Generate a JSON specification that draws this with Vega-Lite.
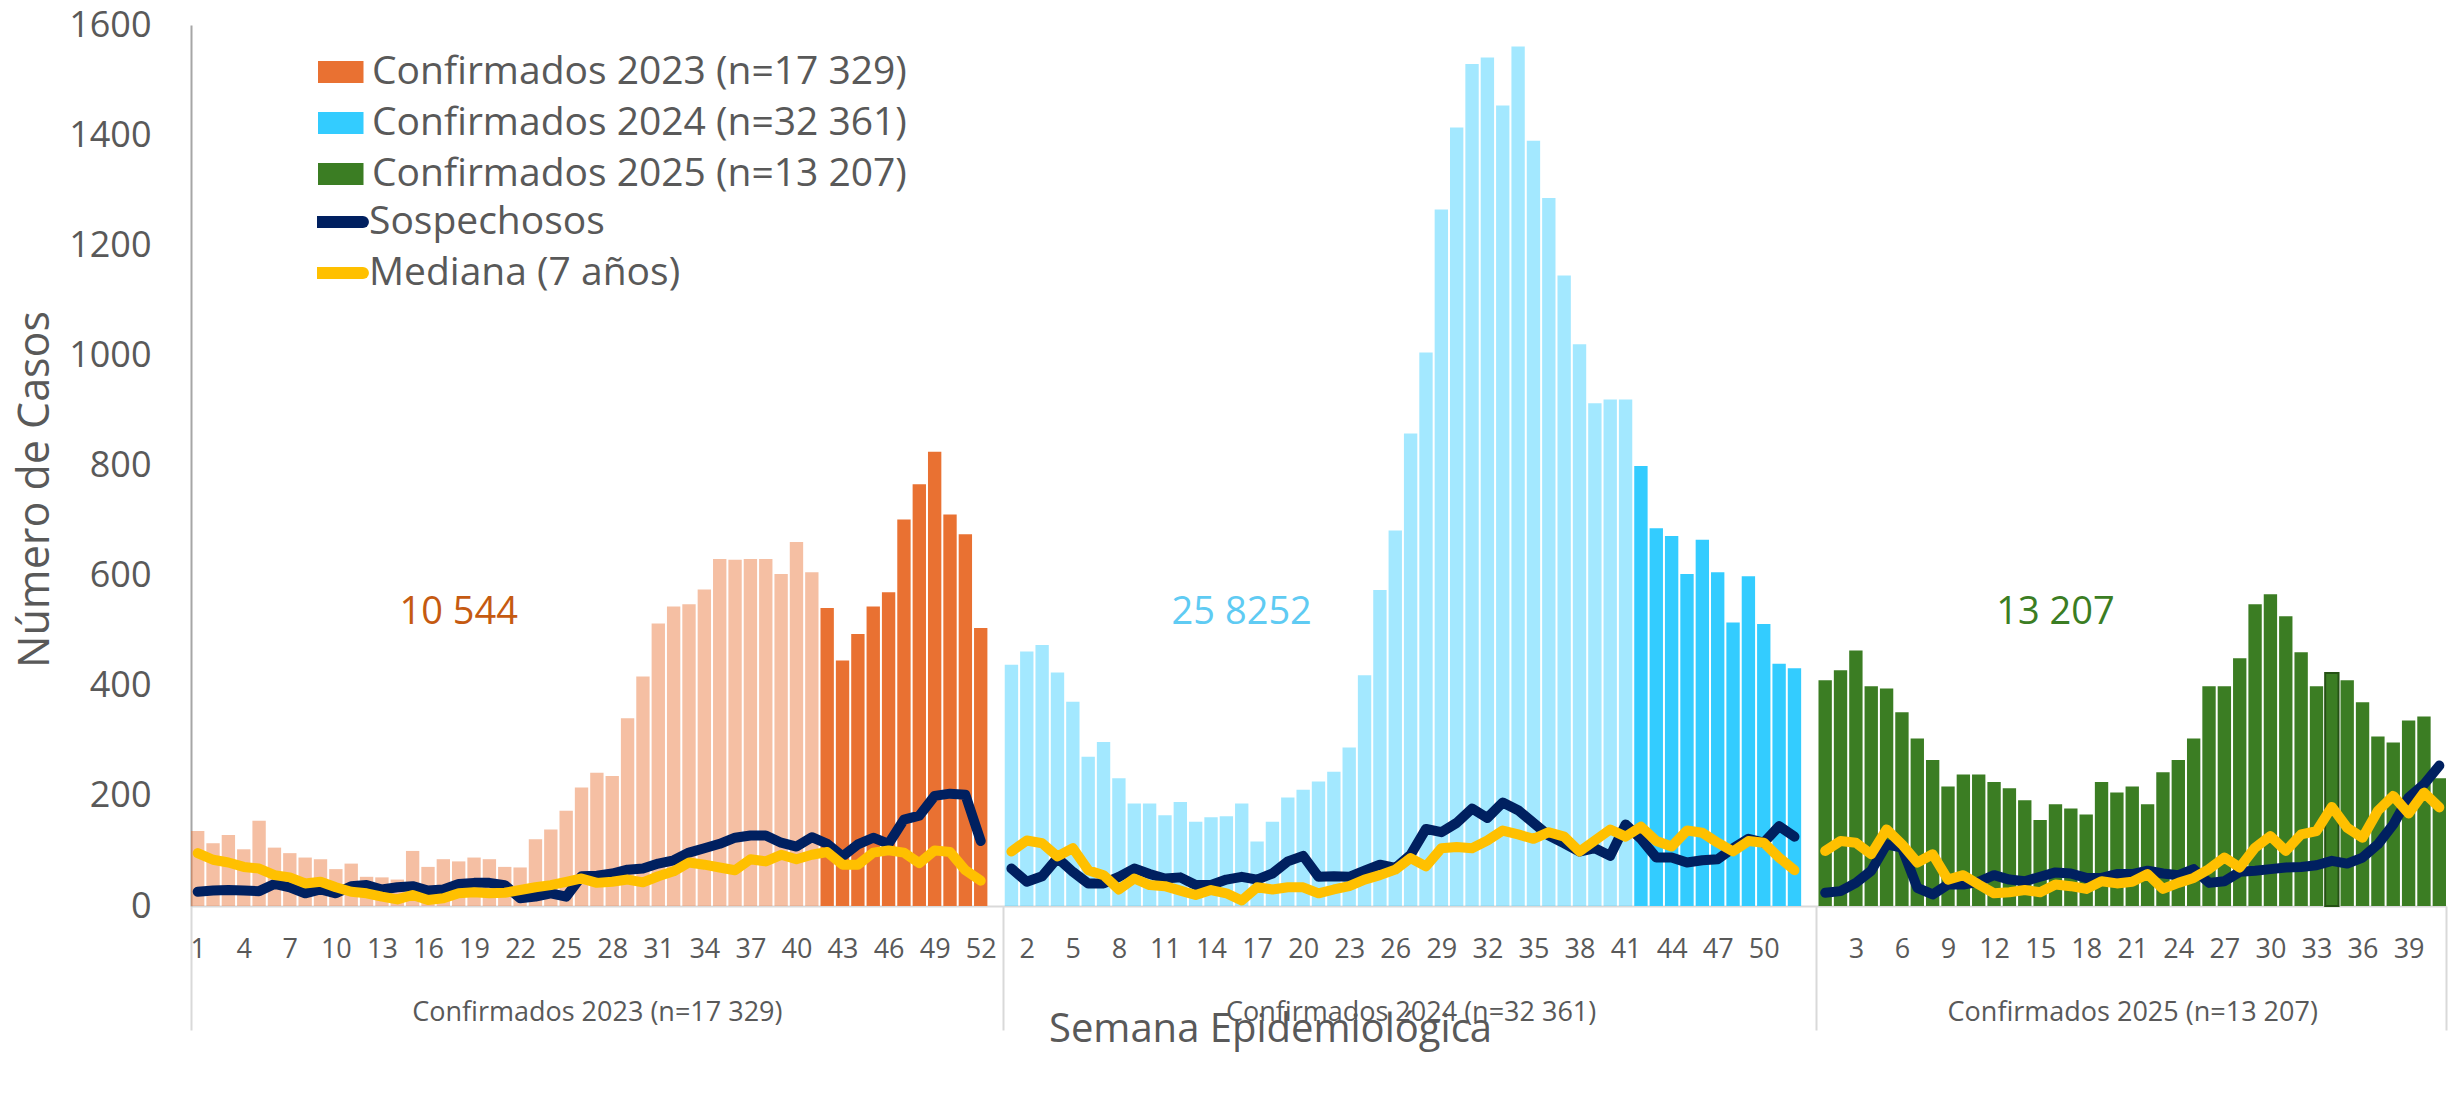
{
  "$schema": "https://vega.github.io/schema/vega-lite/v6.json",
  "autosize": {"type": "none"},
  "padding": {"left": 191, "top": 25, "right": 12, "bottom": 188},
  "width": 2255,
  "height": 881,
  "background": "white",
  "config": {"font": "Open Sans", "view": {"stroke": null}, "axis": {"grid": false}},
  "data": {"values": [
    {"key":"2023-01","anio":"2023","semana":1,"periodo":"anterior","confirmados":136,"sospechosos":26,"mediana":96},
    {"key":"2023-02","anio":"2023","semana":2,"periodo":"anterior","confirmados":114,"sospechosos":28,"mediana":84},
    {"key":"2023-03","anio":"2023","semana":3,"periodo":"anterior","confirmados":129,"sospechosos":29,"mediana":79},
    {"key":"2023-04","anio":"2023","semana":4,"periodo":"anterior","confirmados":103,"sospechosos":28,"mediana":71},
    {"key":"2023-05","anio":"2023","semana":5,"periodo":"anterior","confirmados":155,"sospechosos":27,"mediana":68},
    {"key":"2023-06","anio":"2023","semana":6,"periodo":"anterior","confirmados":106,"sospechosos":40,"mediana":56},
    {"key":"2023-07","anio":"2023","semana":7,"periodo":"anterior","confirmados":96,"sospechosos":34,"mediana":52},
    {"key":"2023-08","anio":"2023","semana":8,"periodo":"anterior","confirmados":88,"sospechosos":23,"mediana":41},
    {"key":"2023-09","anio":"2023","semana":9,"periodo":"anterior","confirmados":85,"sospechosos":30,"mediana":44},
    {"key":"2023-10","anio":"2023","semana":10,"periodo":"anterior","confirmados":67,"sospechosos":23,"mediana":34},
    {"key":"2023-11","anio":"2023","semana":11,"periodo":"anterior","confirmados":77,"sospechosos":36,"mediana":26},
    {"key":"2023-12","anio":"2023","semana":12,"periodo":"anterior","confirmados":53,"sospechosos":38,"mediana":23},
    {"key":"2023-13","anio":"2023","semana":13,"periodo":"anterior","confirmados":52,"sospechosos":30,"mediana":17},
    {"key":"2023-14","anio":"2023","semana":14,"periodo":"anterior","confirmados":48,"sospechosos":34,"mediana":12},
    {"key":"2023-15","anio":"2023","semana":15,"periodo":"anterior","confirmados":100,"sospechosos":36,"mediana":20},
    {"key":"2023-16","anio":"2023","semana":16,"periodo":"anterior","confirmados":71,"sospechosos":28,"mediana":11},
    {"key":"2023-17","anio":"2023","semana":17,"periodo":"anterior","confirmados":85,"sospechosos":30,"mediana":14},
    {"key":"2023-18","anio":"2023","semana":18,"periodo":"anterior","confirmados":81,"sospechosos":40,"mediana":23},
    {"key":"2023-19","anio":"2023","semana":19,"periodo":"anterior","confirmados":88,"sospechosos":42,"mediana":25},
    {"key":"2023-20","anio":"2023","semana":20,"periodo":"anterior","confirmados":85,"sospechosos":42,"mediana":23},
    {"key":"2023-21","anio":"2023","semana":21,"periodo":"anterior","confirmados":71,"sospechosos":38,"mediana":24},
    {"key":"2023-22","anio":"2023","semana":22,"periodo":"anterior","confirmados":70,"sospechosos":14,"mediana":29},
    {"key":"2023-23","anio":"2023","semana":23,"periodo":"anterior","confirmados":121,"sospechosos":17,"mediana":34},
    {"key":"2023-24","anio":"2023","semana":24,"periodo":"anterior","confirmados":139,"sospechosos":23,"mediana":38},
    {"key":"2023-25","anio":"2023","semana":25,"periodo":"anterior","confirmados":173,"sospechosos":17,"mediana":44},
    {"key":"2023-26","anio":"2023","semana":26,"periodo":"anterior","confirmados":215,"sospechosos":54,"mediana":50},
    {"key":"2023-27","anio":"2023","semana":27,"periodo":"anterior","confirmados":242,"sospechosos":55,"mediana":42},
    {"key":"2023-28","anio":"2023","semana":28,"periodo":"anterior","confirmados":236,"sospechosos":59,"mediana":44},
    {"key":"2023-29","anio":"2023","semana":29,"periodo":"anterior","confirmados":341,"sospechosos":66,"mediana":48},
    {"key":"2023-30","anio":"2023","semana":30,"periodo":"anterior","confirmados":417,"sospechosos":68,"mediana":43},
    {"key":"2023-31","anio":"2023","semana":31,"periodo":"anterior","confirmados":513,"sospechosos":77,"mediana":54},
    {"key":"2023-32","anio":"2023","semana":32,"periodo":"anterior","confirmados":544,"sospechosos":83,"mediana":63},
    {"key":"2023-33","anio":"2023","semana":33,"periodo":"anterior","confirmados":548,"sospechosos":97,"mediana":79},
    {"key":"2023-34","anio":"2023","semana":34,"periodo":"anterior","confirmados":575,"sospechosos":105,"mediana":75},
    {"key":"2023-35","anio":"2023","semana":35,"periodo":"anterior","confirmados":630,"sospechosos":113,"mediana":70},
    {"key":"2023-36","anio":"2023","semana":36,"periodo":"anterior","confirmados":629,"sospechosos":124,"mediana":65},
    {"key":"2023-37","anio":"2023","semana":37,"periodo":"anterior","confirmados":630,"sospechosos":128,"mediana":85},
    {"key":"2023-38","anio":"2023","semana":38,"periodo":"anterior","confirmados":630,"sospechosos":128,"mediana":81},
    {"key":"2023-39","anio":"2023","semana":39,"periodo":"anterior","confirmados":603,"sospechosos":115,"mediana":93},
    {"key":"2023-40","anio":"2023","semana":40,"periodo":"anterior","confirmados":661,"sospechosos":108,"mediana":85},
    {"key":"2023-41","anio":"2023","semana":41,"periodo":"anterior","confirmados":606,"sospechosos":125,"mediana":93},
    {"key":"2023-42","anio":"2023","semana":42,"periodo":"reciente","confirmados":541,"sospechosos":113,"mediana":98},
    {"key":"2023-43","anio":"2023","semana":43,"periodo":"reciente","confirmados":446,"sospechosos":90,"mediana":75},
    {"key":"2023-44","anio":"2023","semana":44,"periodo":"reciente","confirmados":494,"sospechosos":112,"mediana":75},
    {"key":"2023-45","anio":"2023","semana":45,"periodo":"reciente","confirmados":544,"sospechosos":124,"mediana":97},
    {"key":"2023-46","anio":"2023","semana":46,"periodo":"reciente","confirmados":570,"sospechosos":113,"mediana":101},
    {"key":"2023-47","anio":"2023","semana":47,"periodo":"reciente","confirmados":702,"sospechosos":157,"mediana":97},
    {"key":"2023-48","anio":"2023","semana":48,"periodo":"reciente","confirmados":766,"sospechosos":164,"mediana":78},
    {"key":"2023-49","anio":"2023","semana":49,"periodo":"reciente","confirmados":825,"sospechosos":200,"mediana":101},
    {"key":"2023-50","anio":"2023","semana":50,"periodo":"reciente","confirmados":711,"sospechosos":204,"mediana":98},
    {"key":"2023-51","anio":"2023","semana":51,"periodo":"reciente","confirmados":675,"sospechosos":202,"mediana":65},
    {"key":"2023-52","anio":"2023","semana":52,"periodo":"reciente","confirmados":505,"sospechosos":118,"mediana":46},
    {"key":"2024-01","anio":"2024","semana":1,"periodo":"anterior","confirmados":438,"sospechosos":68,"mediana":99},
    {"key":"2024-02","anio":"2024","semana":2,"periodo":"anterior","confirmados":462,"sospechosos":44,"mediana":119},
    {"key":"2024-03","anio":"2024","semana":3,"periodo":"anterior","confirmados":474,"sospechosos":54,"mediana":114},
    {"key":"2024-04","anio":"2024","semana":4,"periodo":"anterior","confirmados":424,"sospechosos":87,"mediana":90},
    {"key":"2024-05","anio":"2024","semana":5,"periodo":"anterior","confirmados":371,"sospechosos":62,"mediana":105},
    {"key":"2024-06","anio":"2024","semana":6,"periodo":"anterior","confirmados":271,"sospechosos":41,"mediana":65},
    {"key":"2024-07","anio":"2024","semana":7,"periodo":"anterior","confirmados":298,"sospechosos":41,"mediana":56},
    {"key":"2024-08","anio":"2024","semana":8,"periodo":"anterior","confirmados":232,"sospechosos":53,"mediana":30},
    {"key":"2024-09","anio":"2024","semana":9,"periodo":"anterior","confirmados":186,"sospechosos":68,"mediana":50},
    {"key":"2024-10","anio":"2024","semana":10,"periodo":"anterior","confirmados":186,"sospechosos":58,"mediana":38},
    {"key":"2024-11","anio":"2024","semana":11,"periodo":"anterior","confirmados":165,"sospechosos":50,"mediana":36},
    {"key":"2024-12","anio":"2024","semana":12,"periodo":"anterior","confirmados":189,"sospechosos":52,"mediana":28},
    {"key":"2024-13","anio":"2024","semana":13,"periodo":"anterior","confirmados":153,"sospechosos":38,"mediana":20},
    {"key":"2024-14","anio":"2024","semana":14,"periodo":"anterior","confirmados":161,"sospechosos":38,"mediana":29},
    {"key":"2024-15","anio":"2024","semana":15,"periodo":"anterior","confirmados":163,"sospechosos":48,"mediana":23},
    {"key":"2024-16","anio":"2024","semana":16,"periodo":"anterior","confirmados":186,"sospechosos":53,"mediana":10},
    {"key":"2024-17","anio":"2024","semana":17,"periodo":"anterior","confirmados":117,"sospechosos":48,"mediana":34},
    {"key":"2024-18","anio":"2024","semana":18,"periodo":"anterior","confirmados":153,"sospechosos":59,"mediana":30},
    {"key":"2024-19","anio":"2024","semana":19,"periodo":"anterior","confirmados":197,"sospechosos":81,"mediana":34},
    {"key":"2024-20","anio":"2024","semana":20,"periodo":"anterior","confirmados":211,"sospechosos":91,"mediana":34},
    {"key":"2024-21","anio":"2024","semana":21,"periodo":"anterior","confirmados":226,"sospechosos":53,"mediana":23},
    {"key":"2024-22","anio":"2024","semana":22,"periodo":"anterior","confirmados":244,"sospechosos":54,"mediana":30},
    {"key":"2024-23","anio":"2024","semana":23,"periodo":"anterior","confirmados":288,"sospechosos":53,"mediana":36},
    {"key":"2024-24","anio":"2024","semana":24,"periodo":"anterior","confirmados":419,"sospechosos":64,"mediana":48},
    {"key":"2024-25","anio":"2024","semana":25,"periodo":"anterior","confirmados":574,"sospechosos":75,"mediana":56},
    {"key":"2024-26","anio":"2024","semana":26,"periodo":"anterior","confirmados":682,"sospechosos":69,"mediana":66},
    {"key":"2024-27","anio":"2024","semana":27,"periodo":"anterior","confirmados":858,"sospechosos":93,"mediana":87},
    {"key":"2024-28","anio":"2024","semana":28,"periodo":"anterior","confirmados":1005,"sospechosos":140,"mediana":72},
    {"key":"2024-29","anio":"2024","semana":29,"periodo":"anterior","confirmados":1265,"sospechosos":134,"mediana":105},
    {"key":"2024-30","anio":"2024","semana":30,"periodo":"anterior","confirmados":1414,"sospechosos":151,"mediana":107},
    {"key":"2024-31","anio":"2024","semana":31,"periodo":"anterior","confirmados":1529,"sospechosos":177,"mediana":105},
    {"key":"2024-32","anio":"2024","semana":32,"periodo":"anterior","confirmados":1541,"sospechosos":160,"mediana":119},
    {"key":"2024-33","anio":"2024","semana":33,"periodo":"anterior","confirmados":1454,"sospechosos":188,"mediana":137},
    {"key":"2024-34","anio":"2024","semana":34,"periodo":"anterior","confirmados":1561,"sospechosos":174,"mediana":130},
    {"key":"2024-35","anio":"2024","semana":35,"periodo":"anterior","confirmados":1390,"sospechosos":151,"mediana":122},
    {"key":"2024-36","anio":"2024","semana":36,"periodo":"anterior","confirmados":1286,"sospechosos":128,"mediana":134},
    {"key":"2024-37","anio":"2024","semana":37,"periodo":"anterior","confirmados":1145,"sospechosos":114,"mediana":126},
    {"key":"2024-38","anio":"2024","semana":38,"periodo":"anterior","confirmados":1020,"sospechosos":99,"mediana":99},
    {"key":"2024-39","anio":"2024","semana":39,"periodo":"anterior","confirmados":913,"sospechosos":105,"mediana":119},
    {"key":"2024-40","anio":"2024","semana":40,"periodo":"anterior","confirmados":920,"sospechosos":91,"mediana":139},
    {"key":"2024-41","anio":"2024","semana":41,"periodo":"anterior","confirmados":920,"sospechosos":148,"mediana":126},
    {"key":"2024-42","anio":"2024","semana":42,"periodo":"reciente","confirmados":799,"sospechosos":122,"mediana":144},
    {"key":"2024-43","anio":"2024","semana":43,"periodo":"reciente","confirmados":686,"sospechosos":88,"mediana":118},
    {"key":"2024-44","anio":"2024","semana":44,"periodo":"reciente","confirmados":672,"sospechosos":88,"mediana":108},
    {"key":"2024-45","anio":"2024","semana":45,"periodo":"reciente","confirmados":603,"sospechosos":79,"mediana":137},
    {"key":"2024-46","anio":"2024","semana":46,"periodo":"reciente","confirmados":665,"sospechosos":83,"mediana":133},
    {"key":"2024-47","anio":"2024","semana":47,"periodo":"reciente","confirmados":606,"sospechosos":85,"mediana":115},
    {"key":"2024-48","anio":"2024","semana":48,"periodo":"reciente","confirmados":515,"sospechosos":105,"mediana":99},
    {"key":"2024-49","anio":"2024","semana":49,"periodo":"reciente","confirmados":599,"sospechosos":122,"mediana":118},
    {"key":"2024-50","anio":"2024","semana":50,"periodo":"reciente","confirmados":512,"sospechosos":115,"mediana":115},
    {"key":"2024-51","anio":"2024","semana":51,"periodo":"reciente","confirmados":440,"sospechosos":145,"mediana":88},
    {"key":"2024-52","anio":"2024","semana":52,"periodo":"reciente","confirmados":432,"sospechosos":126,"mediana":65},
    {"key":"2025-01","anio":"2025","semana":1,"periodo":"reciente","confirmados":410,"sospechosos":24,"mediana":100},
    {"key":"2025-02","anio":"2025","semana":2,"periodo":"reciente","confirmados":428,"sospechosos":27,"mediana":118},
    {"key":"2025-03","anio":"2025","semana":3,"periodo":"reciente","confirmados":464,"sospechosos":42,"mediana":115},
    {"key":"2025-04","anio":"2025","semana":4,"periodo":"reciente","confirmados":399,"sospechosos":64,"mediana":94},
    {"key":"2025-05","anio":"2025","semana":5,"periodo":"reciente","confirmados":395,"sospechosos":112,"mediana":139},
    {"key":"2025-06","anio":"2025","semana":6,"periodo":"reciente","confirmados":352,"sospechosos":106,"mediana":112},
    {"key":"2025-07","anio":"2025","semana":7,"periodo":"reciente","confirmados":304,"sospechosos":33,"mediana":79},
    {"key":"2025-08","anio":"2025","semana":8,"periodo":"reciente","confirmados":265,"sospechosos":21,"mediana":94},
    {"key":"2025-09","anio":"2025","semana":9,"periodo":"reciente","confirmados":217,"sospechosos":39,"mediana":48},
    {"key":"2025-10","anio":"2025","semana":10,"periodo":"reciente","confirmados":239,"sospechosos":39,"mediana":56},
    {"key":"2025-11","anio":"2025","semana":11,"periodo":"reciente","confirmados":239,"sospechosos":44,"mediana":39},
    {"key":"2025-12","anio":"2025","semana":12,"periodo":"reciente","confirmados":225,"sospechosos":56,"mediana":23},
    {"key":"2025-13","anio":"2025","semana":13,"periodo":"reciente","confirmados":214,"sospechosos":48,"mediana":25},
    {"key":"2025-14","anio":"2025","semana":14,"periodo":"reciente","confirmados":192,"sospechosos":45,"mediana":29},
    {"key":"2025-15","anio":"2025","semana":15,"periodo":"reciente","confirmados":156,"sospechosos":53,"mediana":25},
    {"key":"2025-16","anio":"2025","semana":16,"periodo":"reciente","confirmados":185,"sospechosos":61,"mediana":39},
    {"key":"2025-17","anio":"2025","semana":17,"periodo":"reciente","confirmados":177,"sospechosos":59,"mediana":36},
    {"key":"2025-18","anio":"2025","semana":18,"periodo":"reciente","confirmados":166,"sospechosos":51,"mediana":31},
    {"key":"2025-19","anio":"2025","semana":19,"periodo":"reciente","confirmados":225,"sospechosos":51,"mediana":45},
    {"key":"2025-20","anio":"2025","semana":20,"periodo":"reciente","confirmados":206,"sospechosos":58,"mediana":41},
    {"key":"2025-21","anio":"2025","semana":21,"periodo":"reciente","confirmados":217,"sospechosos":58,"mediana":44},
    {"key":"2025-22","anio":"2025","semana":22,"periodo":"reciente","confirmados":185,"sospechosos":64,"mediana":58},
    {"key":"2025-23","anio":"2025","semana":23,"periodo":"reciente","confirmados":243,"sospechosos":59,"mediana":31},
    {"key":"2025-24","anio":"2025","semana":24,"periodo":"reciente","confirmados":265,"sospechosos":56,"mediana":42},
    {"key":"2025-25","anio":"2025","semana":25,"periodo":"reciente","confirmados":304,"sospechosos":67,"mediana":51},
    {"key":"2025-26","anio":"2025","semana":26,"periodo":"reciente","confirmados":399,"sospechosos":42,"mediana":67},
    {"key":"2025-27","anio":"2025","semana":27,"periodo":"reciente","confirmados":399,"sospechosos":45,"mediana":88},
    {"key":"2025-28","anio":"2025","semana":28,"periodo":"reciente","confirmados":450,"sospechosos":62,"mediana":70},
    {"key":"2025-29","anio":"2025","semana":29,"periodo":"reciente","confirmados":548,"sospechosos":64,"mediana":106},
    {"key":"2025-30","anio":"2025","semana":30,"periodo":"reciente","confirmados":566,"sospechosos":67,"mediana":127},
    {"key":"2025-31","anio":"2025","semana":31,"periodo":"reciente","confirmados":526,"sospechosos":70,"mediana":100},
    {"key":"2025-32","anio":"2025","semana":32,"periodo":"reciente","confirmados":461,"sospechosos":71,"mediana":130},
    {"key":"2025-33","anio":"2025","semana":33,"periodo":"reciente","confirmados":399,"sospechosos":74,"mediana":136},
    {"key":"2025-34","anio":"2025","semana":34,"periodo":"reciente","confirmados":423,"sospechosos":82,"mediana":180},
    {"key":"2025-35","anio":"2025","semana":35,"periodo":"reciente","confirmados":410,"sospechosos":77,"mediana":142},
    {"key":"2025-36","anio":"2025","semana":36,"periodo":"reciente","confirmados":370,"sospechosos":88,"mediana":124},
    {"key":"2025-37","anio":"2025","semana":37,"periodo":"reciente","confirmados":308,"sospechosos":112,"mediana":173},
    {"key":"2025-38","anio":"2025","semana":38,"periodo":"reciente","confirmados":297,"sospechosos":148,"mediana":200},
    {"key":"2025-39","anio":"2025","semana":39,"periodo":"reciente","confirmados":337,"sospechosos":197,"mediana":168},
    {"key":"2025-40","anio":"2025","semana":40,"periodo":"reciente","confirmados":344,"sospechosos":221,"mediana":206},
    {"key":"2025-41","anio":"2025","semana":41,"periodo":"reciente","confirmados":232,"sospechosos":255,"mediana":179}
  ]},
  "encoding": {
    "x": {
      "field": "key",
      "type": "ordinal",
      "scale": {
        "domain": ["2023-01","2023-02","2023-03","2023-04","2023-05","2023-06","2023-07","2023-08","2023-09","2023-10","2023-11","2023-12","2023-13","2023-14","2023-15","2023-16","2023-17","2023-18","2023-19","2023-20","2023-21","2023-22","2023-23","2023-24","2023-25","2023-26","2023-27","2023-28","2023-29","2023-30","2023-31","2023-32","2023-33","2023-34","2023-35","2023-36","2023-37","2023-38","2023-39","2023-40","2023-41","2023-42","2023-43","2023-44","2023-45","2023-46","2023-47","2023-48","2023-49","2023-50","2023-51","2023-52","2023-53",
          "2024-01","2024-02","2024-03","2024-04","2024-05","2024-06","2024-07","2024-08","2024-09","2024-10","2024-11","2024-12","2024-13","2024-14","2024-15","2024-16","2024-17","2024-18","2024-19","2024-20","2024-21","2024-22","2024-23","2024-24","2024-25","2024-26","2024-27","2024-28","2024-29","2024-30","2024-31","2024-32","2024-33","2024-34","2024-35","2024-36","2024-37","2024-38","2024-39","2024-40","2024-41","2024-42","2024-43","2024-44","2024-45","2024-46","2024-47","2024-48","2024-49","2024-50","2024-51","2024-52","2024-53",
          "2025-01","2025-02","2025-03","2025-04","2025-05","2025-06","2025-07","2025-08","2025-09","2025-10","2025-11","2025-12","2025-13","2025-14","2025-15","2025-16","2025-17","2025-18","2025-19","2025-20","2025-21","2025-22","2025-23","2025-24","2025-25","2025-26","2025-27","2025-28","2025-29","2025-30","2025-31","2025-32","2025-33","2025-34","2025-35","2025-36","2025-37","2025-38","2025-39","2025-40","2025-41"],
        "paddingInner": 0.13,
        "paddingOuter": 0
      },
      "axis": {
        "title": "Semana Epidemiológica",
        "titleFontSize": 40,
        "titleFontWeight": "normal",
        "titleColor": "#595959",
        "titleX": 1079,
        "titleY": 123,
        "titleAlign": "center",
        "titleBaseline": "middle",
        "labelAngle": 0,
        "labelOverlap": false,
        "labelLimit": 1000,
        "labelFontSize": 27,
        "labelColor": "#595959",
        "labelLineHeight": 63,
        "labelBaseline": "top",
        "labelPadding": -94,
        "labelExpr": "[ (indexof(['2023-53','2024-53'], datum.value) < 0 && (toNumber(substring(datum.value,5,7)) + (substring(datum.value,0,4) == '2023' ? 2 : substring(datum.value,0,4) == '2024' ? 1 : 0)) % 3 == 0) ? '' + toNumber(substring(datum.value,5,7)) : '', datum.value == '2023-27' ? 'Confirmados 2023 (n=17 329)' : datum.value == '2024-27' ? 'Confirmados 2024 (n=32 361)' : datum.value == '2025-21' ? 'Confirmados 2025 (n=13 207)' : '' ]",
        "ticks": true,
        "tickBand": "extent",
        "tickSize": 124,
        "tickWidth": 2,
        "tickColor": "#D9D9D9",
        "tickOpacity": {"condition": {"test": "datum.index < 0 || datum.value == '2023-53' || datum.value == '2024-53' || datum.value == '2025-41'", "value": 1}, "value": 0},
        "domainColor": "#D9D9D9",
        "domainWidth": 2
      }
    }
  },
  "layer": [
    {
      "mark": {"type": "bar"},
      "encoding": {
        "y": {
          "field": "confirmados",
          "type": "quantitative",
          "title": "Número de Casos",
          "scale": {"domain": [0, 1600], "nice": false},
          "axis": {
            "values": [0, 200, 400, 600, 800, 1000, 1200, 1400, 1600],
            "format": "d",
            "ticks": false,
            "labelFontSize": 36,
            "labelColor": "#595959",
            "labelPadding": 40,
            "domainColor": "#A6A6A6",
            "domainWidth": 2,
            "titleFontSize": 43,
            "titleFontWeight": "normal",
            "titleColor": "#595959",
            "titlePadding": 11,
            "titleY": 464
          }
        },
        "color": {
          "field": "anio",
          "type": "nominal",
          "scale": {"domain": ["2023", "2024", "2025"], "range": ["#E97132", "#33CCFF", "#3B7D23"]},
          "legend": {
            "orient": "none",
            "legendX": 127,
            "legendY": 28,
            "title": null,
            "labelExpr": "datum.label == '2023' ? 'Confirmados 2023 (n=17 329)' : datum.label == '2024' ? 'Confirmados 2024 (n=32 361)' : 'Confirmados 2025 (n=13 207)'",
            "labelLimit": 1000,
            "symbolType": "M-2,-0.85H2V0.85H-2Z",
            "symbolSize": 676,
            "symbolOpacity": 1,
            "symbolStrokeWidth": 0,
            "labelFontSize": 39,
            "labelColor": "#595959",
            "labelOffset": 15,
            "clipHeight": 38,
            "rowPadding": 12
          }
        },
        "fillOpacity": {"condition": {"test": "datum.periodo == 'anterior'", "value": 0.45}, "value": 1},
        "stroke": {"condition": {"test": "datum.key == '2025-34'", "value": "#255214"}, "value": null},
        "strokeWidth": {"condition": {"test": "datum.key == '2025-34'", "value": 2}, "value": 0}
      }
    },
    {
      "mark": {"type": "line", "strokeWidth": 10, "strokeCap": "round", "strokeJoin": "round"},
      "encoding": {
        "y": {"field": "sospechosos", "type": "quantitative", "title": "Número de Casos", "scale": {"domain": [0, 1600], "nice": false}},
        "detail": {"field": "anio", "type": "nominal"},
        "stroke": {
          "datum": "Sospechosos",
          "type": "nominal",
          "scale": {"domain": ["Sospechosos", "Mediana (7 años)"], "range": ["#002060", "#FFC000"]},
          "legend": {
            "orient": "none",
            "legendX": 126,
            "legendY": 178,
            "title": null,
            "labelLimit": 1000,
            "symbolType": "M-2,0H2",
            "symbolSize": 700,
            "symbolStrokeWidth": 12,
            "labelFontSize": 39,
            "labelColor": "#595959",
            "labelOffset": 13,
            "clipHeight": 38,
            "rowPadding": 12,
            "encode": {"symbols": {"update": {"strokeCap": {"value": "round"}}}}
          }
        }
      }
    },
    {
      "mark": {"type": "line", "strokeWidth": 10, "strokeCap": "round", "strokeJoin": "round"},
      "encoding": {
        "y": {"field": "mediana", "type": "quantitative", "title": "Número de Casos", "scale": {"domain": [0, 1600], "nice": false}},
        "detail": {"field": "anio", "type": "nominal"},
        "stroke": {"datum": "Mediana (7 años)", "type": "nominal"}
      }
    },
    {
      "data": {"values": [
        {"key": "2023-18", "anio": "2023", "total": "10 544"},
        {"key": "2024-16", "anio": "2024", "total": "25 8252"},
        {"key": "2025-16", "anio": "2025", "total": "13 207"}
      ]},
      "mark": {"type": "text", "fontSize": 38, "baseline": "middle", "align": "center"},
      "encoding": {
        "y": {"datum": 533},
        "text": {"field": "total", "type": "nominal"},
        "color": {"condition": [{"test": "datum.anio == '2023'", "value": "#C55A11"}, {"test": "datum.anio == '2024'", "value": "#5FCBF3"}], "value": "#3B7D23"}
      }
    }
  ]
}
